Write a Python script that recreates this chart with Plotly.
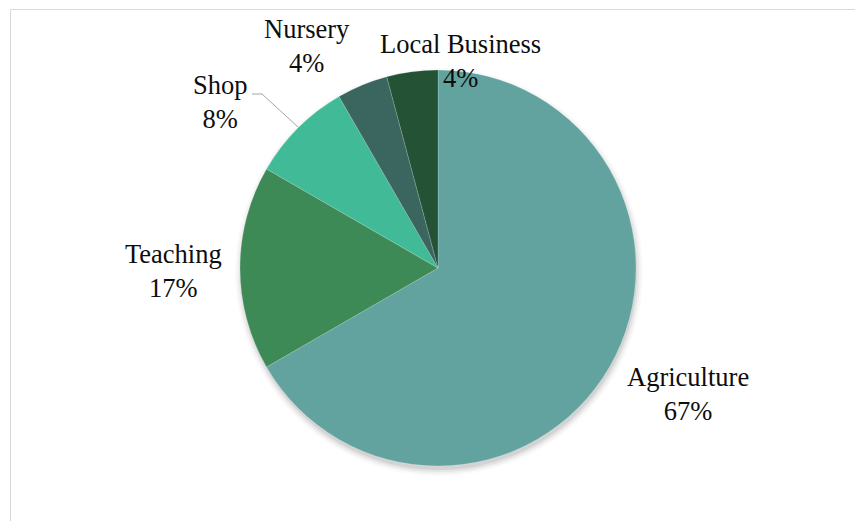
import plotly.graph_objects as go

# Respondents by occupation (counts); labels show the rounded share
categories = ["Agriculture", "Teaching", "Shop", "Nursery", "Local Business"]
counts = [16, 4, 2, 1, 1]
colors = ["#62A39F", "#3D8A57", "#41BB97", "#3B6660", "#235234"]

W, H = 855, 521
CX, CY, R = 438, 268, 198  # pie centre and radius in pixels


def px(x):
    return x / W


def py(y):
    return 1 - y / H


total = sum(counts)
percents = [round(100 * c / total) for c in counts]

fig = go.Figure(
    go.Pie(
        labels=categories,
        values=counts,
        sort=False,
        direction="clockwise",
        rotation=0,
        marker=dict(colors=colors, line=dict(color="rgba(255,255,255,0.35)", width=0.5)),
        textinfo="none",
        hoverinfo="label+percent",
        showlegend=False,
        domain=dict(x=[px(CX - R), px(CX + R)], y=[py(CY + R), py(CY - R)]),
    )
)

shapes = []
# soft drop shadow under the pie, pushed down and slightly right
for k, op in [(6, 0.02), (4, 0.035), (2, 0.05), (0, 0.07)]:
    shapes.append(
        dict(
            type="circle", xref="paper", yref="paper", layer="below",
            x0=px(CX - R - k + 1), x1=px(CX + R + k + 1),
            y0=py(CY + R + k + 4), y1=py(CY - R - k + 4),
            fillcolor=f"rgba(0,0,0,{op})", line=dict(width=0),
        )
    )
# chart frame
shapes.append(
    dict(
        type="rect", xref="paper", yref="paper", layer="below",
        x0=px(10.5), x1=px(W + 20), y0=py(H + 20), y1=py(9.5),
        line=dict(color="#D9D9D9", width=1), fillcolor="rgba(0,0,0,0)",
    )
)
# leader line for the Shop label
shapes.append(
    dict(
        type="path", xref="paper", yref="paper",
        path=f"M {px(252)} {py(94)} L {px(262)} {py(94)} L {px(298)} {py(127)}",
        line=dict(color="#A6A6A6", width=1),
    )
)

label_pos = {
    "Agriculture": (688, 394),
    "Teaching": (173, 271),
    "Shop": (220, 102),
    "Nursery": (307, 46),
    "Local Business": (460, 61),
}

serif = "'Liberation Serif', 'Times New Roman', Times, serif"

annotations = []
for cat, pct in zip(categories, percents):
    x, y = label_pos[cat]
    annotations.append(
        dict(
            x=px(x), y=py(y), xref="paper", yref="paper",
            text=f"{cat}<br>{pct}%", showarrow=False,
            xanchor="center", yanchor="middle", align="center",
            font=dict(family=serif, size=26.5, color="#0D0D0D"),
        )
    )

fig.update_layout(
    width=W, height=H,
    margin=dict(l=0, r=0, t=0, b=0),
    paper_bgcolor="white", plot_bgcolor="white",
    font=dict(family=serif),
    shapes=shapes, annotations=annotations,
)

fig.write_html("out.html")
